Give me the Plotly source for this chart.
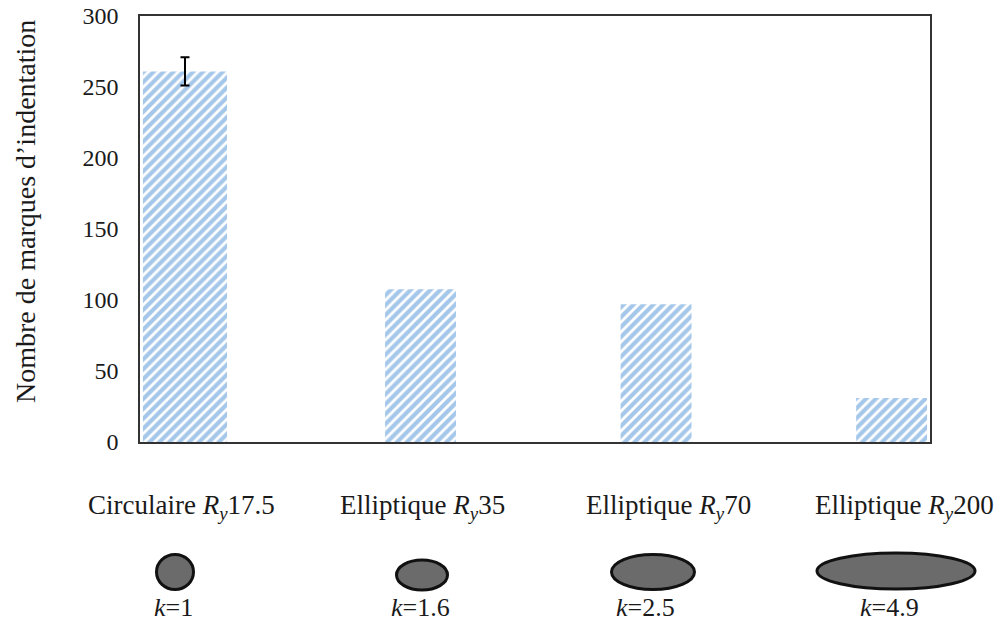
import plotly.graph_objects as go

# ---- data ----
cat_prefix = ["Circulaire", "Elliptique", "Elliptique", "Elliptique"]
ry_values = ["17.5", "35", "70", "200"]
k_values = ["1", "1.6", "2.5", "4.9"]
counts = [261, 107.5, 97, 31]
err_index = [0]
err_values = [10]
positions = [0, 1, 2, 3]
y_ticks = [0, 50, 100, 150, 200, 250, 300]
y_title = "Nombre de marques d\u2019indentation"

# ---- styling / layout constants ----
FONT = "Liberation Serif"
TXT = "#1a1a1a"
BLUE = "#4a90d6"
bar_widths = [0.357, 0.301, 0.301, 0.301]

# page geometry (screen px): plot area 140..930 x 16..442; body margin 8px
BODY = 8
FW, FH = 1003 - 2 * BODY, 630 - 2 * BODY
PL, PR, PT, PB = 140, 930, 16, 442


def px(x):
    return (x - PL) / (PR - PL)


def py(y):
    return (PB - y) / (PB - PT)


fig = go.Figure()
fig.add_trace(go.Bar(
    x=positions, y=counts, width=bar_widths,
    marker=dict(color="white", line=dict(width=0),
                pattern=dict(shape="/", fgcolor=BLUE, bgcolor="white", size=7, solidity=0.6)),
    showlegend=False, hoverinfo="y",
))
fig.add_trace(go.Scatter(
    x=[positions[i] for i in err_index], y=[counts[i] for i in err_index],
    mode="markers", marker=dict(opacity=0, size=1),
    error_y=dict(type="data", array=err_values, visible=True, color="black", thickness=2, width=4.5),
    showlegend=False, hoverinfo="skip",
))

fig.update_layout(
    width=FW, height=FH,
    margin=dict(l=PL - BODY, r=FW - (PR - BODY), t=PT - BODY, b=FH - (PB - BODY), pad=0),
    paper_bgcolor="white", plot_bgcolor="white",
    font=dict(family=FONT, size=25, color=TXT),
    xaxis=dict(range=[-0.191, 3.163], showticklabels=False, showgrid=False, zeroline=False,
               showline=True, linecolor="#333", linewidth=1.5, mirror=True, ticks="",
               automargin=False),
    yaxis=dict(range=[0, 300], tickvals=y_ticks, showgrid=False, automargin=False,
               zeroline=False, showline=True, linecolor="#333", linewidth=1.5, mirror=True,
               ticks="", ticklabelstandoff=15, ticklabeloverflow="allow",
               tickfont=dict(size=24, family=FONT, color=TXT)),
)

# rotated y-axis title
fig.add_annotation(x=px(25), y=py(212), xref="paper", yref="paper", text=y_title,
                   textangle=-90, showarrow=False, xanchor="center", yanchor="middle",
                   font=dict(size=28, family=FONT, color=TXT))

# category labels, ellipse illustrations and k labels below the plot
label_cx = [181, 422, 668, 904]
label_cy = 507
k_cx = [173, 420, 645, 889]
k_cy = 607
ell_cx = [175, 422, 653, 896]
ell_cy = [572, 575, 572, 571]
ell_w = [40, 54, 86, 161]
ell_h = [38, 33, 38, 39]
ELL_LW = 3

for i in range(len(cat_prefix)):
    fig.add_annotation(
        x=px(label_cx[i]), y=py(label_cy), xref="paper", yref="paper",
        text=f"{cat_prefix[i]} <i>R</i><sub><i>y</i></sub>{ry_values[i]}",
        showarrow=False, font=dict(size=27, family=FONT, color=TXT),
        xanchor="center", yanchor="middle")
    fig.add_annotation(
        x=px(k_cx[i]), y=py(k_cy), xref="paper", yref="paper",
        text=f"<i>k</i>={k_values[i]}",
        showarrow=False, font=dict(size=26, family=FONT, color=TXT),
        xanchor="center", yanchor="middle")
    w = ell_w[i] - ELL_LW
    h = ell_h[i] - ELL_LW
    fig.add_shape(
        type="circle", xref="paper", yref="paper",
        x0=px(ell_cx[i] - w / 2), x1=px(ell_cx[i] + w / 2),
        y0=py(ell_cy[i] + h / 2), y1=py(ell_cy[i] - h / 2),
        fillcolor="#6b6b6b", line=dict(color="#111", width=ELL_LW))

fig.write_html("out.html")
